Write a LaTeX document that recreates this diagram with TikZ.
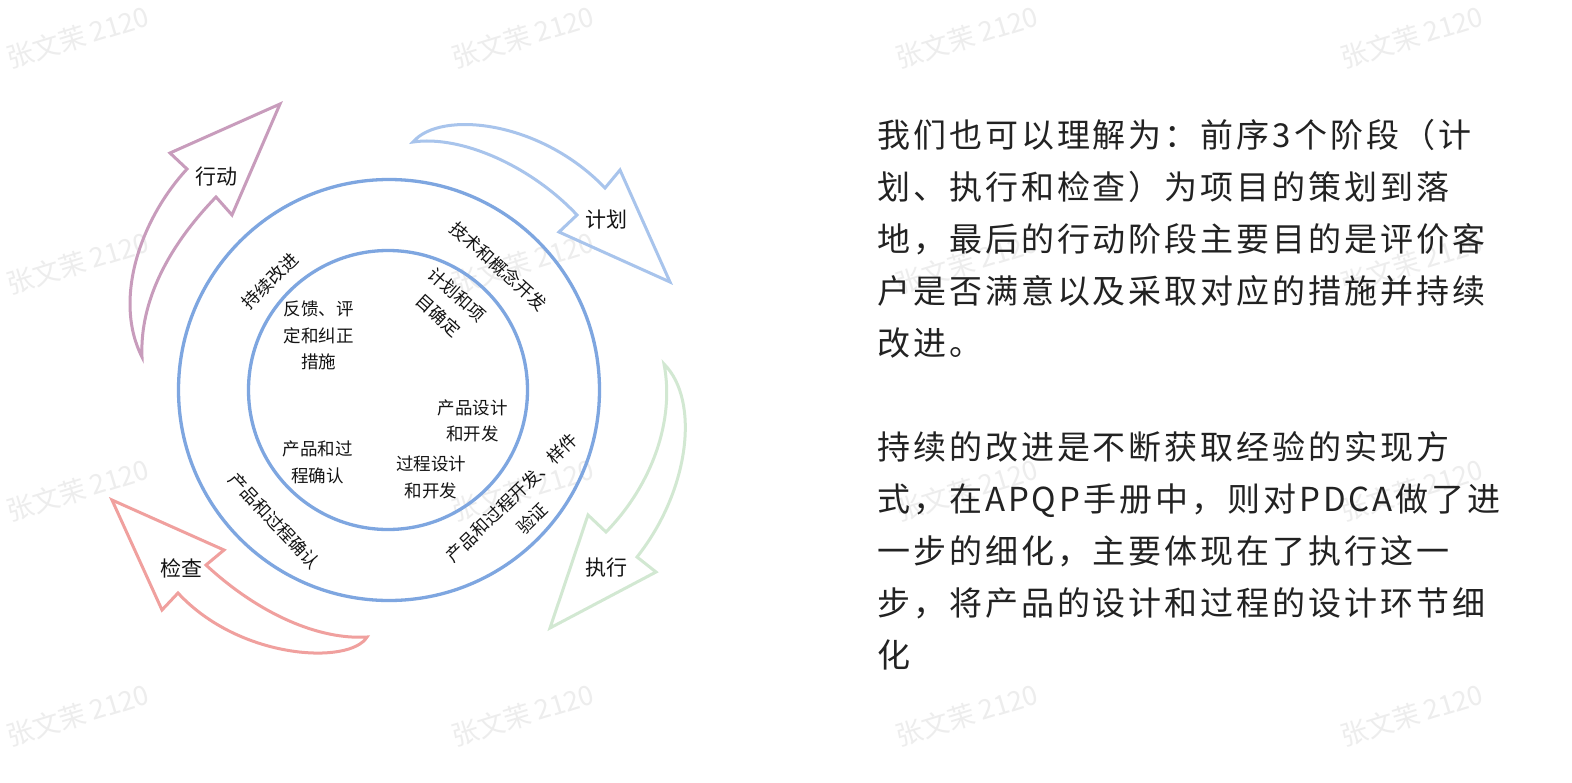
\documentclass[tikz,border=0pt]{standalone}
\usepackage{fontspec}
\newfontfamily\cjk{Noto Sans CJK SC}
\newfontfamily\cjkwide[LetterSpace=9]{Noto Sans CJK SC}
\definecolor{ringblue}{RGB}{126,166,224}
\definecolor{arpink}{RGB}{200,156,188}
\definecolor{arblue}{RGB}{168,196,236}
\definecolor{argreen}{RGB}{210,232,210}
\definecolor{arred}{RGB}{240,160,158}
\definecolor{wm}{RGB}{237,237,237}
\definecolor{txt}{RGB}{34,34,34}
\definecolor{labelc}{RGB}{20,20,20}
\begin{document}
\begin{tikzpicture}[x=1pt,y=-1pt,
  small/.style={font=\cjk\fontsize{17.5}{26.5}\selectfont, align=center, inner sep=0pt, text=labelc},
  arlbl/.style={font=\cjk\fontsize{21}{25}\selectfont, inner sep=0pt, text=labelc},
  para/.style={font=\cjkwide\fontsize{33}{52}\selectfont, anchor=base west, inner sep=0pt, text=txt},
  wmk/.style={font=\cjk\fontsize{27}{27}\selectfont, text=wm, rotate=17, inner sep=0pt},
  ring/.style={circle, draw=ringblue, line width=3.3pt, inner sep=0pt},
  bigarrow/.style={line width=3pt, line join=miter}
]
\useasboundingbox (0,0) rectangle (1572,782);
\fill[white] (0,0) rectangle (1572,782);

% watermarks
\foreach \cx [count=\i] in {78,523,967,1412}{
  \foreach \cy [count=\j] in {37,263,490,715}{
    \node[wmk] (wm-\i-\j) at (\cx,\cy) {张文茉 2120};
  }
}

% rings
\node[ring, minimum size=421pt] (outer) at (389,390) {};
\node[ring, minimum size=279pt] (inner) at (388,390) {};

% curved block arrows
\draw[bigarrow, draw=arpink] (142,357) .. controls (113,300) and (140,220) .. (187,169)
  -- (170,153) -- (280,104) -- (232,215) -- (216,197)
  .. controls (160,255) and (140,310) .. (142,357) -- cycle;
\draw[bigarrow, draw=arblue] (413,142) .. controls (440,110) and (540,120) .. (605,188)
  -- (620,170) -- (670,282) -- (559,232) -- (577,215)
  .. controls (530,165) and (460,135) .. (413,142) -- cycle;
\draw[bigarrow, draw=argreen] (664,364) .. controls (700,400) and (690,490) .. (637,557)
  -- (656,572) -- (550,628) -- (588,515) -- (606,532)
  .. controls (652,485) and (675,420) .. (664,364) -- cycle;
\draw[bigarrow, draw=arred] (112,500) -- (224,550) -- (206,565)
  .. controls (260,615) and (320,640) .. (367,637)
  .. controls (350,665) and (240,660) .. (178,593) -- (162,610) -- cycle;

% arrow labels
\node[arlbl] (l-act) at (216.5,177) {行动};
\node[arlbl] (l-plan) at (606,220) {计划};
\node[arlbl] (l-do) at (606,568) {执行};
\node[arlbl] (l-chk) at (181,568) {检查};

% ring labels
\node[small, rotate=45] (t-cont) at (270,281) {持续改进};
\node[small, rotate=-42] (t-tech) at (499,266) {技术和概念开发};
\node[small, rotate=-42, font=\cjk\fontsize{17.5}{28}\selectfont] (t-plan) at (448,305) {计划和项\\目确定};
\node[small, rotate=44, font=\cjk\fontsize{17.5}{29}\selectfont] (t-proc) at (522,508) {产品和过程开发、样件\\验证};
\node[small, rotate=-47] (t-val) at (274.5,521) {产品和过程确认};

% inner labels
\node[small] (t-fb) at (318.5,335.5) {反馈、评\\定和纠正\\措施};
\node[small] (t-pd) at (472.5,421) {产品设计\\和开发};
\node[small] (t-pv) at (317.5,462.5) {产品和过\\程确认};
\node[small] (t-prd) at (431,477.5) {过程设计\\和开发};

% paragraph text
\node[para] (p1a) at (877,147.5) {我们也可以理解为：前序3个阶段（计};
\node[para] (p1b) at (877,199.5) {划、执行和检查）为项目的策划到落};
\node[para] (p1c) at (877,251.5) {地，最后的行动阶段主要目的是评价客};
\node[para] (p1d) at (877,303.5) {户是否满意以及采取对应的措施并持续};
\node[para] (p1e) at (877,355.5) {改进。};
\node[para] (p2a) at (877,459.5) {持续的改进是不断获取经验的实现方};
\node[para] (p2b) at (877,511.5) {式，在APQP手册中，则对PDCA做了进};
\node[para] (p2c) at (877,563.5) {一步的细化，主要体现在了执行这一};
\node[para] (p2d) at (877,615.5) {步，将产品的设计和过程的设计环节细};
\node[para] (p2e) at (877,667.5) {化};
\end{tikzpicture}
\end{document}
